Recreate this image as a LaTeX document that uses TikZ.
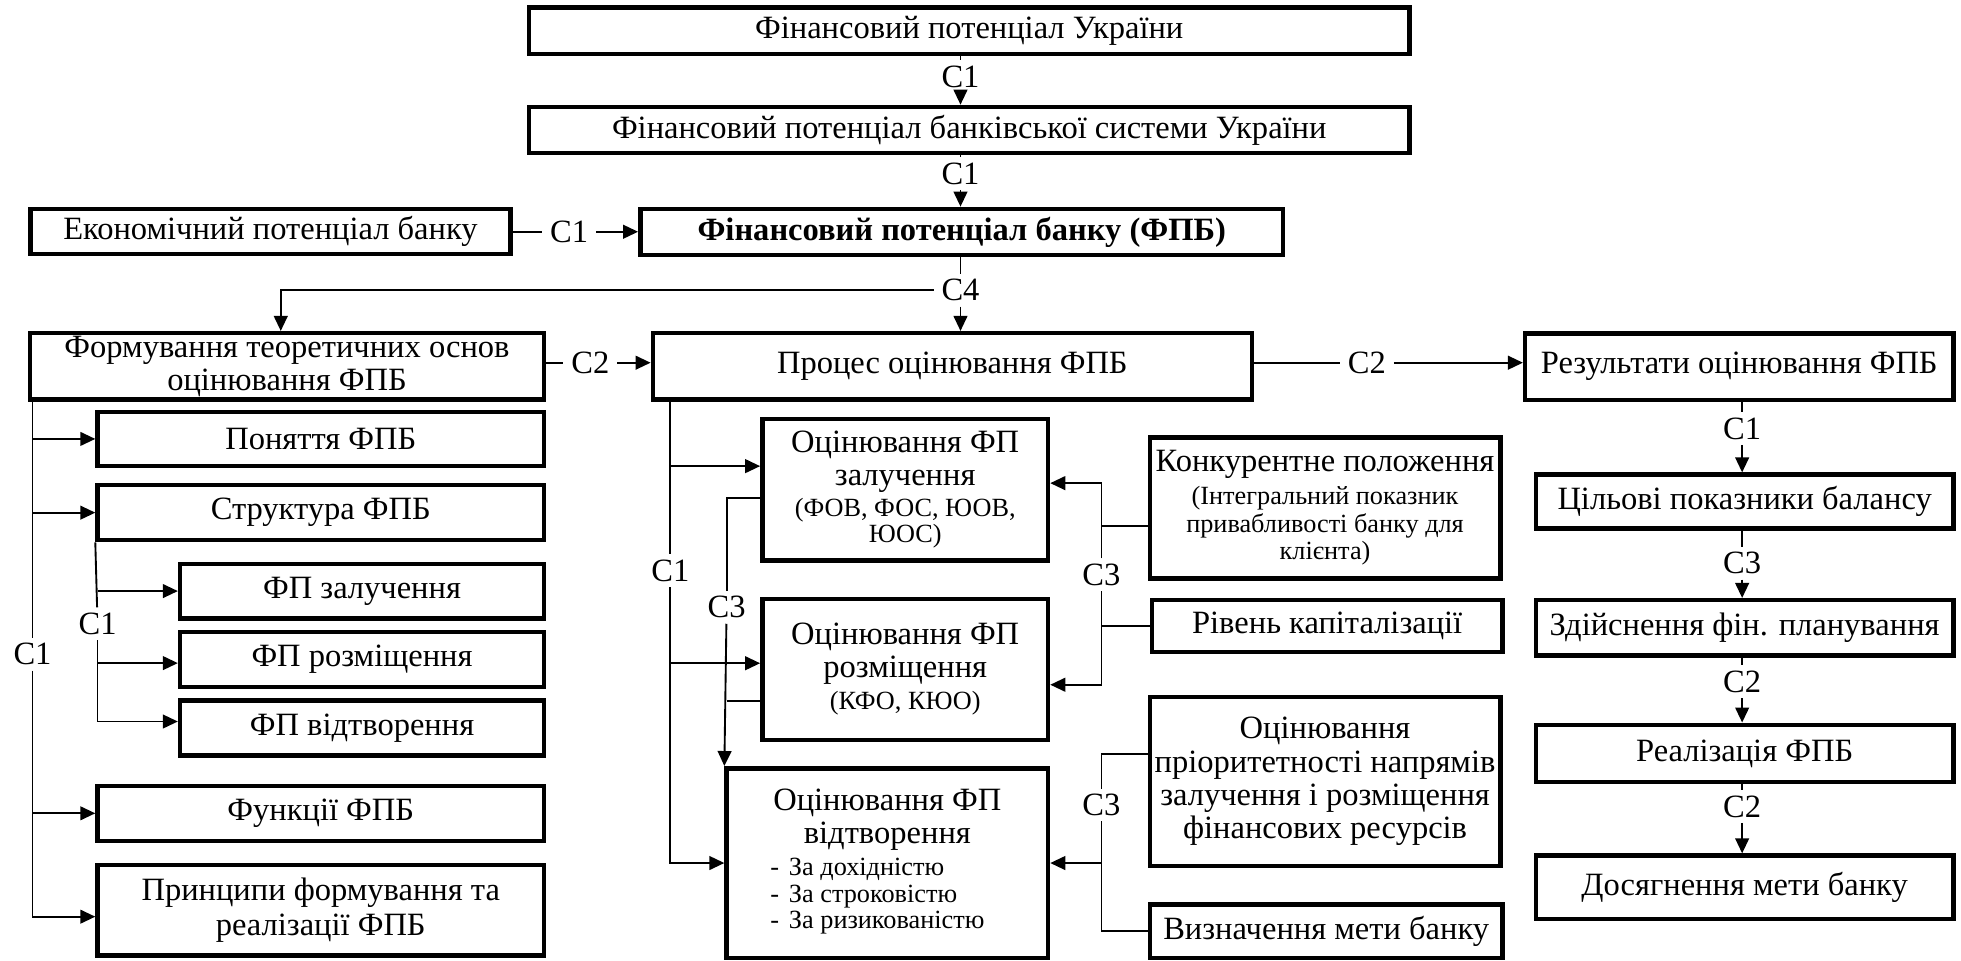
\documentclass[tikz,border=0pt]{standalone}
\usepackage{fontspec}
\setmainfont{Liberation Serif}
\usetikzlibrary{arrows.meta}
\newcommand\fm{\fontsize{13}{13.3}\selectfont}
\newcommand\fsm{\fontsize{10.5}{10.6}\selectfont}
\newcommand\bxx[6]{\node[bx, minimum width={(#4-#2)*0.5pt}, minimum height={(#5-#3)*0.5pt}] (#1) at ({(#2+#4)/2},{(#3+#5)/2}) {#6};}
\begin{document}
\begin{tikzpicture}[x=0.5pt,y=-0.5pt,
  bx/.style={draw, line width=1.8pt, inner sep=0pt, align=center, font=\fm},
  lbl/.style={inner xsep=3pt, inner ysep=2pt, font=\fm},
  ln/.style={line width=0.75pt},
  arr/.style={ln, -{Triangle[length=6pt,width=5.5pt]}}]
\useasboundingbox (0,0) rectangle (1568,768);
% boxes
\bxx{b1}{423}{6}{1127}{43}{Фінансовий потенціал України}
\bxx{b2}{423}{85.5}{1127}{122.5}{Фінансовий потенціал банківської системи України}
\bxx{b3}{512}{167}{1026}{204}{\bfseries Фінансовий потенціал банку (ФПБ)}
\bxx{ek}{24.5}{167}{408}{203}{Економічний потенціал банку}
\bxx{form}{24}{266.4}{435}{319.5}{Формування теоретичних основ\\оцінювання ФПБ}
\bxx{proc}{522}{266.4}{1001}{319.5}{Процес оцінювання ФПБ}
\bxx{res}{1219.5}{266.5}{1562}{319.7}{Результати оцінювання ФПБ}
\bxx{pon}{78}{329.3}{435}{372.6}{Поняття ФПБ}
\bxx{str}{78}{387.9}{435}{431.9}{Структура ФПБ}
\bxx{fpz}{144}{450.8}{435}{494.4}{ФП залучення}
\bxx{fpr}{144}{505.2}{435}{549.2}{ФП розміщення}
\bxx{fpv}{144}{559.9}{435}{603.9}{ФП відтворення}
\bxx{fun}{78}{628.3}{435}{672.3}{Функції ФПБ}
\bxx{pri}{78}{691.8}{435}{764.1}{Принципи формування та\\[0.5pt]реалізації ФПБ}
\bxx{oz}{609.6}{335.2}{838}{448.2}{Оцінювання ФП\\[-0.3pt]залучення\\[-1pt]{\fsm (ФОВ, ФОС, ЮОВ,}\\[-2.7pt]{\fsm ЮОС)}}
\bxx{or}{609.6}{479.1}{838}{591.5}{Оцінювання ФП\\[-0.3pt]розміщення\\[-0.3pt]{\fsm (КФО, КЮО)}}
\bxx{ov}{581}{614.3}{838}{765.8}{Оцінювання ФП\\[-0.3pt]відтворення\\[-0.3pt]{\fsm\begin{tabular}[t]{@{}l@{}}-\hspace{4pt}За дохідністю\\-\hspace{4pt}За строковістю\\-\hspace{4pt}За ризикованістю\end{tabular}}\hspace*{8pt}}
\bxx{kon}{919.4}{349.8}{1199.6}{462.5}{Конкурентне положення\\[-0.2pt]{\fsm (Інтегральний показник}\\[-2.3pt]{\fsm привабливості банку для}\\[-2.3pt]{\fsm клієнта)}}
\bxx{riv}{921}{479.9}{1201.4}{521.4}{Рівень капіталізації}
\bxx{pr}{919.4}{557.3}{1199.6}{692.3}{Оцінювання\\пріоритетності напрямів\\залучення і розміщення\\фінансових ресурсів}
\bxx{viz}{919.4}{723.3}{1201.4}{765.8}{Визначення мети банку}
\bxx{cil}{1228}{379.5}{1562}{422.7}{Цільові показники балансу}
\bxx{zd}{1228}{479.9}{1562}{524}{Здійснення фін. планування}
\bxx{rea}{1228}{579.5}{1562}{625.3}{Реалізація ФПБ}
\bxx{dos}{1228}{684.1}{1562}{734.8}{Досягнення мети банку}
% labels
\node[lbl] (l1) at (768,61.3) {C1};
\node[lbl] (l2) at (768,138.7) {C1};
\node[lbl] (l3) at (455,185.3) {C1};
\node[lbl] (l4) at (768,232) {C4};
\node[lbl] (l5) at (472,290) {C2};
\node[lbl] (l6) at (1093,290) {C2};
\node[lbl] (l7) at (26,523.1) {C1};
\node[lbl] (l8) at (78,498.7) {C1};
\node[lbl] (l9) at (536,456.3) {C1};
\node[lbl] (l10) at (581,485.6) {C3};
\node[lbl] (l11) at (880.7,459.6) {C3};
\node[lbl] (l12) at (880.7,643.6) {C3};
\node[lbl] (l13) at (1393,342.6) {C1};
\node[lbl] (l14) at (1393,450.4) {C3};
\node[lbl] (l15) at (1393,545.2) {C2};
\node[lbl] (l16) at (1393,644.9) {C2};
\coordinate (xl) at (224.5,0);
% top chain
\draw[ln] (b1.south -| l1) -- (l1);
\draw[arr] (l1) -- (b2.north -| l1);
\draw[ln] (b2.south -| l2) -- (l2);
\draw[arr] (l2) -- (b3.north -| l2);
\draw[ln] (ek.east |- l3) -- (l3);
\draw[arr] (l3) -- (b3.west |- l3);
\draw[ln] (b3.south -| l4) -- (l4);
\draw[arr] (l4) -- (proc.north -| l4);
\draw[arr] (l4) -| (form.north -| xl);
\draw[ln] (form.east |- l5) -- (l5);
\draw[arr] (l5) -- (proc.west |- l5);
\draw[ln] (proc.east |- l6) -- (l6);
\draw[arr] (l6) -- (res.west |- l6);
% left tree
\draw[ln] (form.south -| l7) -- (l7);
\draw[arr] (l7) |- ([yshift=-2.5pt]pri.west);
\draw[arr] (pon.west -| l7) -- (pon.west);
\draw[arr] (str.west -| l7) -- (str.west);
\draw[arr] (fun.west -| l7) -- (fun.west);
\draw[ln] (str.south west) -- (l8);
\draw[arr] (l8) |- ([yshift=2.5pt]fpv.west);
\draw[arr] (fpz.west -| l8) -- (fpz.west);
\draw[arr] ([yshift=-1.5pt]fpr.west -| l8) -- ([yshift=-1.5pt]fpr.west);
% middle tree
\draw[ln] (proc.south -| l9) -- (l9);
\draw[arr] (l9) |- (ov.west);
\draw[arr] ([yshift=9.5pt]oz.west -| l9) -- ([yshift=9.5pt]oz.west);
\draw[arr] ([yshift=2.5pt]or.west -| l9) -- ([yshift=2.5pt]or.west);
\draw[ln] ([yshift=-3.3pt]oz.west) -| (l10);
\draw[arr] (l10) -- (ov.north west);
\draw[ln] ([yshift=-12.6pt]or.west) -- ([yshift=-12.6pt]or.west -| l10);
% right C3 brackets
\draw[ln] ([yshift=-7.2pt]kon.west) -- ([yshift=-7.2pt]kon.west -| l11);
\draw[ln] (riv.west) -- (riv.west -| l11);
\draw[arr] (l11) |- ([yshift=2.7pt]oz.east);
\draw[arr] (l11) |- ([yshift=-6.1pt]or.east);
\draw[ln] ([yshift=10.95pt]pr.west) -| (l12);
\draw[ln] (viz.west) -| (l12);
\draw[arr] (ov.east -| l12) -- (ov.east);
% right column
\draw[ln] (res.south -| l13) -- (l13);
\draw[arr] (l13) -- (cil.north -| l13);
\draw[ln] (cil.south -| l14) -- (l14);
\draw[arr] (l14) -- (zd.north -| l14);
\draw[ln] (zd.south -| l15) -- (l15);
\draw[arr] (l15) -- (rea.north -| l15);
\draw[ln] (rea.south -| l16) -- (l16);
\draw[arr] (l16) -- (dos.north -| l16);
\end{tikzpicture}
\end{document}
